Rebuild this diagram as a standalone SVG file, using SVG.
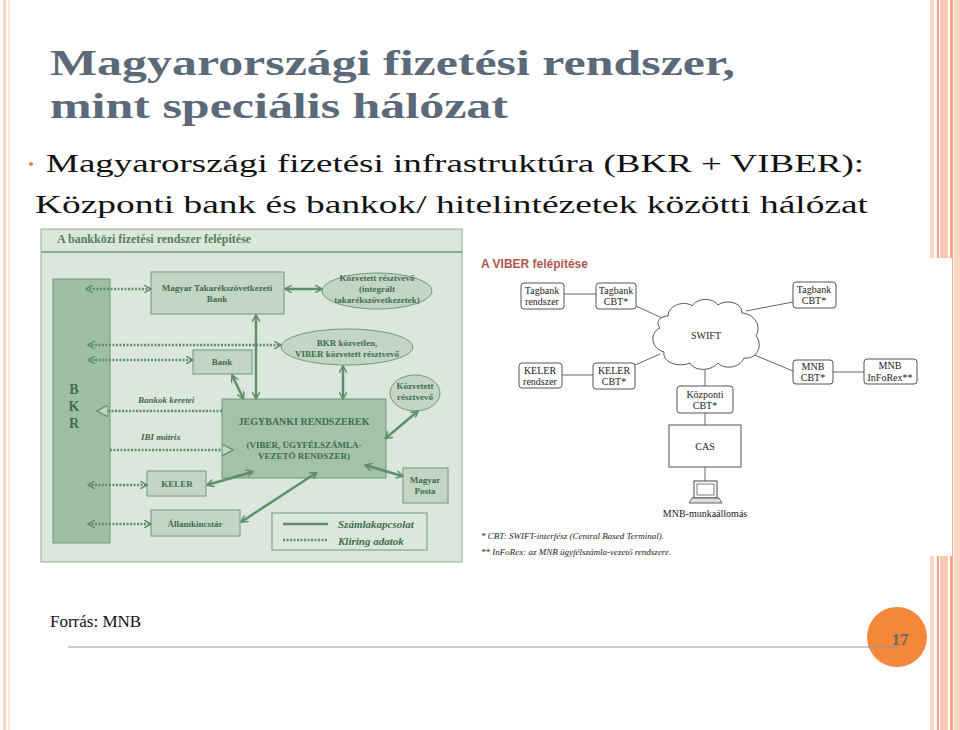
<svg xmlns="http://www.w3.org/2000/svg" width="960" height="730" viewBox="0 0 960 730" font-family="Liberation Serif, serif">
<style>
.g{font-weight:bold;fill:#3f6e4a;text-anchor:middle}
.gb{fill:#c3d6c6;stroke:#6f9a78;stroke-width:1}
.sol{stroke:#5e8f68;stroke-width:2.5;fill:none;marker-start:url(#as);marker-end:url(#ae)}
.dot{stroke:#5e8f68;stroke-width:2.5;stroke-dasharray:2 1.5;fill:none;marker-start:url(#as);marker-end:url(#ae)}
.vb{fill:#fff;stroke:#555;stroke-width:1}
.vt{fill:#222;text-anchor:middle}
.vl{stroke:#666;stroke-width:1;fill:none}
</style>
<defs>
<marker id="ae" markerWidth="8" markerHeight="8" refX="6" refY="4" orient="auto" markerUnits="userSpaceOnUse"><path d="M0,0 L7,4 L0,8" fill="none" stroke="#5e8f68" stroke-width="1.5"/></marker>
<marker id="as" markerWidth="8" markerHeight="8" refX="1" refY="4" orient="auto" markerUnits="userSpaceOnUse"><path d="M8,0 L1,4 L8,8" fill="none" stroke="#5e8f68" stroke-width="1.5"/></marker>
<marker id="tri" markerWidth="12" markerHeight="12" refX="10" refY="6" orient="auto" markerUnits="userSpaceOnUse"><path d="M0,0 L11,6 L0,12 Z" fill="#c3d6c6" stroke="#5e8f68" stroke-width="1.2"/></marker>
</defs>
<rect width="960" height="730" fill="#fff"/>
<g id="deco">
<rect x="3" y="0" width="3" height="730" fill="#fbd3c0"/>
<rect x="8" y="0" width="2" height="730" fill="#fde6da"/>
<rect x="930" y="0" width="4" height="730" fill="#fcd6c4"/>
<rect x="937" y="0" width="2" height="730" fill="#f6a585"/>
<rect x="940" y="0" width="8" height="730" fill="#fbc9b3"/>
<rect x="950" y="0" width="3" height="730" fill="#f6a585"/>
<rect x="954" y="0" width="6" height="730" fill="#fcd6c4"/>
<rect x="930" y="258" width="22" height="298" fill="#fff"/>
</g>
<g id="title" font-weight="bold" fill="#5b6978" font-size="36" font-family="Liberation Serif, serif">
<text x="50" y="75" textLength="685" lengthAdjust="spacingAndGlyphs">Magyarországi fizetési rendszer,</text>
<text x="50" y="118" textLength="458" lengthAdjust="spacingAndGlyphs">mint speciális hálózat</text>
</g>
<g id="bullet" font-size="26" fill="#111" font-family="Liberation Serif, serif">
<circle cx="31" cy="164" r="2" fill="#e8844a"/>
<text x="46" y="172" textLength="818" lengthAdjust="spacingAndGlyphs">Magyarországi fizetési infrastruktúra (BKR + VIBER):</text>
<text x="35" y="213" textLength="833" lengthAdjust="spacingAndGlyphs">Központi bank és bankok/ hitelintézetek közötti hálózat</text>
</g>

<g id="left-diagram" font-size="9">
<rect x="41" y="229" width="421" height="333" fill="#dbe7dc" stroke="#8fae95"/>
<line x1="41" y1="252" x2="462" y2="252" stroke="#6f9a78" stroke-width="1.5"/>
<text x="57" y="243" font-weight="bold" font-size="12" fill="#4f7f5a">A bankközi fizetési rendszer felépítése</text>
<g id="bkr"><rect x="53" y="279" width="57" height="264" fill="#9fbfa5" stroke="#6f9a78"/>
<text class="g" font-size="14" x="74" y="394">B</text><text class="g" font-size="14" x="74" y="411">K</text><text class="g" font-size="14" x="74" y="428">R</text></g>
<g id="mtb"><rect class="gb" x="151" y="272" width="133" height="42"/><text class="g" x="217" y="291">Magyar Takarékszövetkezeti</text><text class="g" x="217" y="302">Bank</text></g>
<g id="kozv1"><ellipse class="gb" cx="377" cy="291" rx="55" ry="18"/><text class="g" x="377" y="281">Közvetett résztvevő</text><text class="g" x="377" y="292">(integrált</text><text class="g" x="377" y="303">takarékszövetkezetek)</text></g>
<g id="bkrkozv"><ellipse class="gb" cx="347" cy="347" rx="66" ry="18"/><text class="g" x="347" y="346">BKR közvetlen,</text><text class="g" x="347" y="357">VIBER közvetett résztvevő</text></g>
<g id="bank"><rect class="gb" x="193" y="350" width="59" height="24"/><text class="g" x="222" y="365">Bank</text></g>
<g id="kozv2"><ellipse class="gb" cx="415" cy="393" rx="25" ry="18"/><text class="g" x="415" y="389">Közvetett</text><text class="g" x="415" y="400">résztvevő</text></g>
<g id="jegy"><rect x="222" y="399" width="164" height="79" fill="#a3c2a9" stroke="#6f9a78"/><text class="g" font-size="10" x="304" y="425">JEGYBANKI RENDSZEREK</text><text class="g" x="304" y="448">(VIBER, ÜGYFÉLSZÁMLA-</text><text class="g" x="304" y="459">VEZETŐ RENDSZER)</text></g>
<g id="keler"><rect class="gb" x="147" y="471" width="59" height="25"/><text class="g" x="177" y="487">KELER</text></g>
<g id="posta"><rect class="gb" x="403" y="468" width="45" height="35"/><text class="g" x="425" y="483">Magyar</text><text class="g" x="425" y="494">Posta</text></g>
<g id="allam"><rect class="gb" x="151" y="510" width="89" height="26"/><text class="g" x="195" y="527">Államkincstár</text></g>
<g id="legend"><rect x="272" y="513" width="155" height="37" fill="#dbe7dc" stroke="#6f9a78"/>
<line x1="283" y1="524" x2="328" y2="524" stroke="#5e8f68" stroke-width="2.5"/>
<line x1="283" y1="540" x2="328" y2="540" stroke="#5e8f68" stroke-width="2.5" stroke-dasharray="2 1.5"/>
<text font-weight="bold" fill="#3f6e4a" font-style="italic" font-size="11" x="338" y="528">Számlakapcsolat</text>
<text font-weight="bold" fill="#3f6e4a" font-style="italic" font-size="11" x="338" y="545">Kliring  adatok</text></g>
<text font-weight="bold" fill="#3f6e4a" font-style="italic" x="138" y="403">Bankok keretei</text>
<text font-weight="bold" fill="#3f6e4a" font-style="italic" x="141" y="440">IBI mátrix</text>
<g id="connectors-left">
<line class="dot" x1="86" y1="289" x2="150" y2="289"/>
<line class="dot" x1="88" y1="345" x2="280" y2="345"/>
<line class="dot" x1="88" y1="360" x2="192" y2="360"/>
<line class="dot" x1="88" y1="485" x2="146" y2="485"/>
<line class="dot" x1="88" y1="524" x2="150" y2="524"/>
<line x1="222" y1="411" x2="98" y2="411" stroke="#5e8f68" stroke-width="2.5" stroke-dasharray="2 1.5" marker-end="url(#tri)"/>
<line x1="110" y1="450" x2="232" y2="450" stroke="#5e8f68" stroke-width="2.5" stroke-dasharray="2 1.5" marker-end="url(#tri)"/>
<line class="sol" x1="285" y1="289" x2="321" y2="289"/>
<line class="sol" x1="256" y1="315" x2="256" y2="398"/>
<line class="sol" x1="232" y1="375" x2="243" y2="398"/>
<line class="sol" x1="343" y1="366" x2="343" y2="398"/>
<line class="sol" x1="418" y1="411" x2="386" y2="438"/>
<line class="sol" x1="365" y1="465" x2="402" y2="476"/>
<line class="sol" x1="207" y1="485" x2="252" y2="472"/>
<line class="sol" x1="241" y1="522" x2="316" y2="473"/>
</g>
</g>

<g id="right-diagram" font-size="10">
<text x="481" y="268" font-family="Liberation Sans, sans-serif" font-weight="bold" font-size="12" fill="#b0564a">A VIBER felépítése</text>
<g id="connectors-right">
<line class="vl" x1="564" y1="294" x2="596" y2="294"/>
<line class="vl" x1="636" y1="306" x2="662" y2="318"/>
<line class="vl" x1="793" y1="302" x2="746" y2="311"/>
<line class="vl" x1="562" y1="375" x2="593" y2="375"/>
<line class="vl" x1="635" y1="365" x2="660" y2="354"/>
<line class="vl" x1="793" y1="371" x2="752" y2="354"/>
<line class="vl" x1="833" y1="372" x2="864" y2="372"/>
<line class="vl" x1="705" y1="368" x2="705" y2="386"/>
<line class="vl" x1="705" y1="413" x2="705" y2="425"/>
<line class="vl" x1="705" y1="467" x2="705" y2="481"/>
</g>
<g id="swift"><path d="M668,316 C668,305 685,300 692,306 C697,298 712,297 718,305 C726,299 742,302 742,313 C754,314 762,325 756,336 C764,346 756,360 744,358 C740,368 724,370 718,363 C710,372 694,371 690,363 C678,368 662,362 664,352 C650,348 650,332 660,328 C655,322 660,316 668,316 Z" fill="#fff" stroke="#555"/><text class="vt" x="706" y="339">SWIFT</text></g>
<g id="tbr"><rect class="vb" x="521" y="283" width="43" height="26" rx="3"/><text class="vt" x="542" y="294">Tagbank</text><text class="vt" x="542" y="305">rendszer</text></g>
<g id="tbc1"><rect class="vb" x="596" y="283" width="40" height="26" rx="3"/><text class="vt" x="616" y="294">Tagbank</text><text class="vt" x="616" y="305">CBT*</text></g>
<g id="tbc2"><rect class="vb" x="793" y="282" width="43" height="26" rx="3"/><text class="vt" x="814" y="293">Tagbank</text><text class="vt" x="814" y="304">CBT*</text></g>
<g id="kr"><rect class="vb" x="519" y="363" width="43" height="25" rx="3"/><text class="vt" x="540" y="374">KELER</text><text class="vt" x="540" y="385">rendszer</text></g>
<g id="kc"><rect class="vb" x="593" y="363" width="42" height="26" rx="3"/><text class="vt" x="614" y="374">KELER</text><text class="vt" x="614" y="385">CBT*</text></g>
<g id="kozp"><rect class="vb" x="677" y="386" width="56" height="27" rx="3"/><text class="vt" x="705" y="398">Központi</text><text class="vt" x="705" y="409">CBT*</text></g>
<g id="cas"><rect class="vb" x="669" y="425" width="72" height="42"/><text class="vt" x="705" y="450">CAS</text></g>
<g id="mnbc"><rect class="vb" x="793" y="360" width="40" height="24" rx="3"/><text class="vt" x="813" y="370">MNB</text><text class="vt" x="813" y="381">CBT*</text></g>
<g id="mnbi"><rect class="vb" x="864" y="359" width="53" height="25" rx="3"/><text class="vt" x="890" y="369">MNB</text><text class="vt" x="890" y="381">InFoRex**</text></g>
<g id="pc"><rect x="694" y="481" width="23" height="17" fill="#fff" stroke="#444"/><rect x="697" y="484" width="17" height="11" fill="#fff" stroke="#444" stroke-width="0.7"/><path d="M692,498 L719,498 L722,503 L689,503 Z" fill="#ddd" stroke="#444" stroke-width="0.8"/><text class="vt" x="705" y="517">MNB-munkaállomás</text></g>
<text x="481" y="539" font-style="italic" font-size="9" fill="#222">* CBT: SWIFT-interfész (Central Based Terminal).</text>
<text x="481" y="555" font-style="italic" font-size="9" fill="#222">** InFoRex: az MNB ügyfélszámla-vezető rendszere.</text>
</g>

<text x="50" y="627" font-size="17" fill="#111">Forrás: MNB</text>
<line x1="68" y1="647" x2="897" y2="647" stroke="#999" stroke-width="1.2"/>
<g id="page"><circle cx="897" cy="637" r="30" fill="#f5873a"/><line x1="868" y1="647" x2="897" y2="647" stroke="#999" stroke-width="1.2"/><text x="900" y="645" font-weight="bold" font-size="17" fill="#6a6a6a" text-anchor="middle">17</text></g>
</svg>
